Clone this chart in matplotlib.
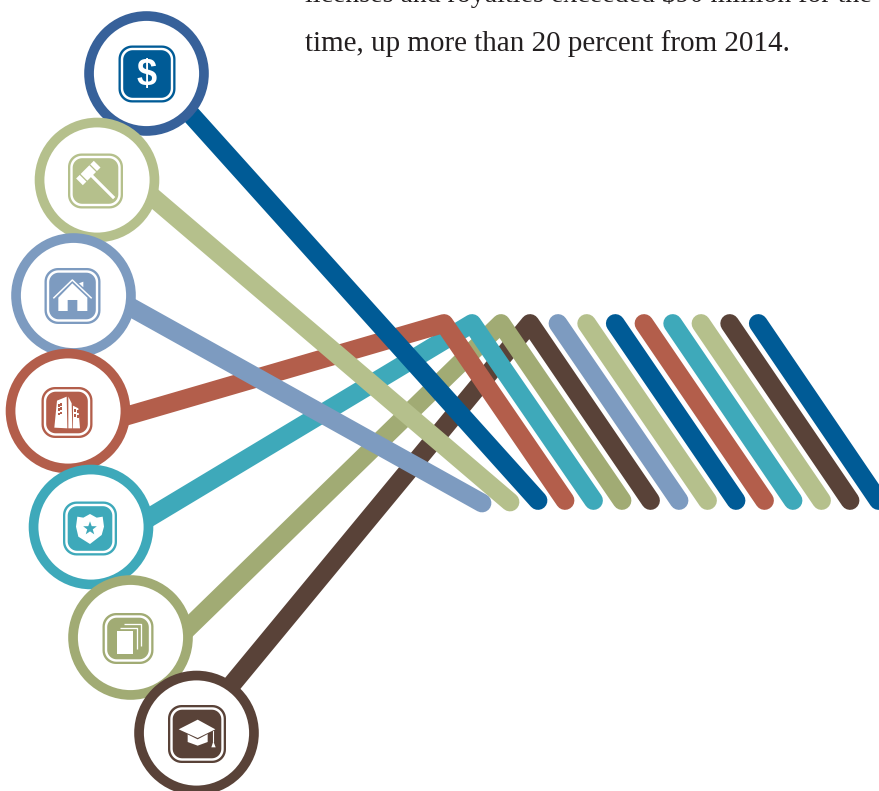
import matplotlib
matplotlib.use("Agg")
import matplotlib.pyplot as plt
from matplotlib.patches import Circle, Polygon, Rectangle
import numpy as np

W, H = 879, 791
PX = 72 / 100

NODE_NAMES = ["dollar", "gavel", "house", "building", "shield", "pages", "cap"]
NODE_X = [146.5, 97, 73.5, 68, 91, 130.5, 196.5]
NODE_Y = [73.5, 180, 295.5, 411, 527, 637.5, 733]
ICON_X = [147, 95.5, 72.5, 67, 90, 128, 197]
ICON_Y = [74, 181, 296, 412.5, 528.5, 638.5, 734]
ICON_SIZE = [57, 55, 56, 51, 54, 51, 58]
RING_COLORS = ["#37619a", "#b5c08c", "#7d9bc0", "#b35e4b", "#3ea9ba", "#a1ab74", "#594238"]
LINE_COLORS = ["#005b96", "#b5c08c", "#7d9bc0", "#b35e4b", "#3ea9ba", "#a1ab74", "#594238"]
ICON_COLORS = LINE_COLORS

# where each connector leaves its ring (hidden start is extended back under the disc)
EXIT_X = [192.5, 156, 133.3, 129.2, 151.3, 190.5, 233.3]
EXIT_Y = [116.3, 200, 308.7, 415.2, 516.3, 625.5, 682.7]
ELBOW_X = [None, None, None, 444, 472, 501, 530]
ELBOW_Y = 323.5
END_X = [538, 510, 482, 565, 593.5, 622, 650.5]
END_Y = [500.5, 502, 503, 500.5, 500.5, 500.5, 500.5]

STRIPE_TOP_X = [558, 586.7, 615.3, 644, 672.7, 701, 729.7, 758.3]
STRIPE_END_X = [679, 707.5, 736, 764.5, 793, 821.5, 850, 878.5]
STRIPE_COLORS = ["#7d9bc0", "#b5c08c", "#005b96", "#b35e4b", "#3ea9ba", "#b5c08c", "#594238", "#005b96"]

TEXT_LINES = ["licenses and royalties exceeded $90 million for the",
              "time, up more than 20 percent from 2014."]
TEXT_BASE_Y = [2, 50.5]
TEXT_SIZE = [20.1, 21.0]

LINE_W = 18.8
RING_W = 9.7
RING_OUT = 62.3

fig = plt.figure(figsize=((W + 0.01) / 100, (H + 0.01) / 100), dpi=100, facecolor="white")
ax = fig.add_axes([0, 0, 1, 1])
ax.set_xlim(0, W)
ax.set_ylim(H, 0)
ax.axis("off")

def stroke(xs, ys, color, z, w=LINE_W, cap="round"):
    ax.plot(xs, ys, color=color, lw=w * PX, solid_capstyle=cap,
            solid_joinstyle="round", zorder=z)

for tx, ex, c in zip(STRIPE_TOP_X, STRIPE_END_X, STRIPE_COLORS):
    stroke([tx, ex], [ELBOW_Y, 500.5], c, 2)

DRAW_ORDER = [6, 5, 4, 3, 0, 1, 2]
for k, i in enumerate(DRAW_ORDER):
    nx = ELBOW_X[i] if ELBOW_X[i] is not None else END_X[i]
    ny = ELBOW_Y if ELBOW_X[i] is not None else END_Y[i]
    d = np.array([EXIT_X[i] - nx, EXIT_Y[i] - ny])
    d = d / np.hypot(*d)
    sx, sy = EXIT_X[i] + d[0] * 25, EXIT_Y[i] + d[1] * 25
    xs, ys = [sx], [sy]
    if ELBOW_X[i] is not None:
        xs.append(ELBOW_X[i]); ys.append(ELBOW_Y)
    xs.append(END_X[i]); ys.append(END_Y[i])
    stroke(xs, ys, LINE_COLORS[i], 3 + k * 0.1)

def rounded(cx, cy, s, r, color, z):
    h = s / 2
    pts = []
    for qx, qy, a0 in [(h - r, h - r, 0), (-h + r, h - r, 90), (-h + r, -h + r, 180), (h - r, -h + r, 270)]:
        t = np.radians(a0 + np.linspace(0, 90, 12))
        pts += list(zip(cx + qx + r * np.cos(t), cy + qy + r * np.sin(t)))
    ax.add_patch(Polygon(pts, closed=True, fc=color, ec="none", zorder=z))

def poly(pts, color, z, ox=0, oy=0):
    pts = np.array(pts, float)
    ax.add_patch(Polygon(pts / 3 + [ox, oy], closed=True, fc=color, ec="none", zorder=z))

def rrect(cx, cy, length, wid, deg, color, z):
    a = np.radians(deg)
    u = np.array([np.cos(a), np.sin(a)]); v = np.array([-u[1], u[0]])
    c = np.array([cx, cy])
    p = [c + u * length / 2 + v * wid / 2, c + u * length / 2 - v * wid / 2,
         c - u * length / 2 - v * wid / 2, c - u * length / 2 + v * wid / 2]
    ax.add_patch(Polygon(p, closed=True, fc=color, ec="none", zorder=z))

def glyph(name, cx, cy, col, z):
    if name == "dollar":
        ax.text(cx, cy + 1.5, "$", color="white", fontsize=26, fontweight="bold",
                family=["Liberation Sans Narrow", "Liberation Sans"],
                ha="center", va="center", zorder=z)
    elif name == "gavel":
        rrect(102.5, 186.5, 33, 3.2, 45, "white", z)
        rrect(88.3, 173, 25, 9.5, -45, "white", z)
        rrect(83.5, 177.8, 10.5, 1.3, 45, col, z + .1)
        rrect(93.2, 168.2, 10.5, 1.3, 45, col, z + .1)
    elif name == "house":
        poly([(175, 893), (217, 850), (262, 893), (262, 933), (232, 933), (232, 900),
              (203, 900), (203, 933), (175, 933)], "white", z)
        stroke([160 / 3, 217 / 3, 275 / 3], [895 / 3, 840 / 3, 895 / 3], "white", z, w=1.5, cap="butt")
        poly([(237, 850), (250, 845), (250, 862)], "white", z)
    elif name == "building":
        ox, oy = 35, 375
        poly([(66, 77), (95, 65), (97, 160), (58, 158)], "white", z, ox=ox, oy=oy)
        poly([(100, 65), (110, 85), (112, 160), (100, 160)], "white", z, ox=ox, oy=oy)
        poly([(114, 92), (130, 100), (135, 160), (114, 160)], "white", z, ox=ox, oy=oy)
        for wx, wy in [(68, 87), (76, 84), (68, 100), (76, 97), (68, 113), (76, 110),
                       (118, 103), (125, 106), (118, 118), (125, 120)]:
            ax.add_patch(Rectangle((ox + wx / 3, oy + wy / 3), 1.9, 2.6, fc=col, ec="none", zorder=z + .1))
    elif name == "shield":
        oy = 340
        poly([(232, 530), (250, 533), (270, 522), (290, 533), (308, 530), (312, 560),
              (305, 585), (270, 612), (235, 590), (228, 560)], "white", z, oy=oy)
        t = np.radians(-90 + np.arange(10) * 36)
        r = np.where(np.arange(10) % 2 == 0, 7.2, 2.9)
        ax.add_patch(Polygon(np.c_[90 + r * np.cos(t), 528.5 + r * np.sin(t)], fc=col, ec="none", zorder=z + .1))
    elif name == "pages":
        oy = 340
        ax.add_patch(Rectangle((350 / 3, oy + 872 / 3), 48 / 3, 70 / 3, fc="white", ec="none", zorder=z))
        stroke([360 / 3, 410 / 3, 410 / 3], [oy + 865 / 3, oy + 865 / 3, oy + 928 / 3], "white", z, w=1.3, cap="butt")
        stroke([372 / 3, 422 / 3, 422 / 3], [oy + 853 / 3, oy + 853 / 3, oy + 918 / 3], "white", z, w=1.3, cap="butt")
    elif name == "cap":
        ox, oy = 160, 697
        poly([(83, 110), (143, 110), (143, 135), (113, 146), (83, 135)], "white", z, ox=ox, oy=oy)
        poly([(52, 97), (113, 67), (170, 97), (113, 127)], col, z + .1, ox=ox, oy=oy)
        poly([(56, 97), (113, 68), (166, 97), (113, 123)], "white", z + .2, ox=ox, oy=oy)
        stroke([ox + 160 / 3, ox + 160 / 3], [oy + 100 / 3, oy + 136 / 3], "white", z, w=1.1, cap="butt")
        poly([(154, 151), (160, 133), (167, 151)], "white", z, ox=ox, oy=oy)

for i, n in enumerate(NODE_NAMES):
    z = 10 + i
    ax.add_patch(Circle((NODE_X[i], NODE_Y[i]), RING_OUT - RING_W / 2, fc="white",
                        ec=RING_COLORS[i], lw=RING_W * PX, zorder=z))
    s, c = ICON_SIZE[i], ICON_COLORS[i]
    rounded(ICON_X[i], ICON_Y[i], s, 13.5, c, z + .1)
    rounded(ICON_X[i], ICON_Y[i], s - 4.6, 11.5, "white", z + .2)
    rounded(ICON_X[i], ICON_Y[i], s - 9.4, 9.5, c, z + .3)
    glyph(n, ICON_X[i], ICON_Y[i], c, z + .4)

for line, y, fs in zip(TEXT_LINES, TEXT_BASE_Y, TEXT_SIZE):
    ax.text(305, y, line, family="Liberation Serif", fontsize=fs, color="#231f20",
            ha="left", va="baseline", zorder=30)

fig.savefig("out.png", dpi=100)
